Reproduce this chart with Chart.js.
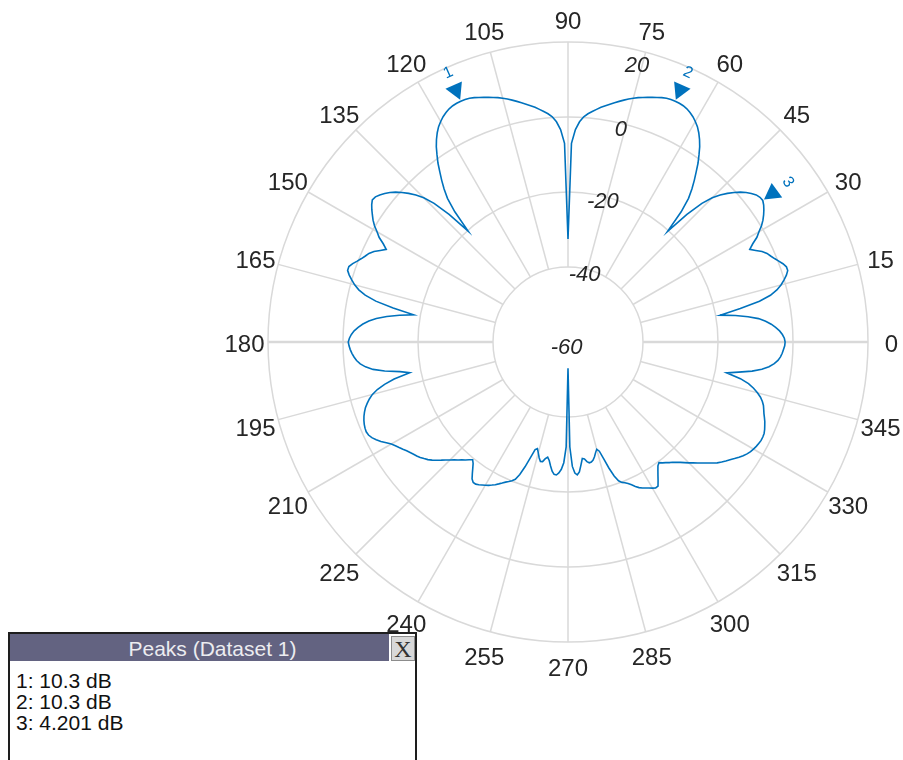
<!DOCTYPE html>
<html>
<head>
<meta charset="utf-8">
<title>Polar pattern</title>
<script src="https://cdn.jsdelivr.net/npm/chart.js@4.4.1/dist/chart.umd.min.js"></script>
<style>
  html, body { margin: 0; padding: 0; background: #fff; overflow: hidden; }
  #wrap { position: relative; width: 903px; height: 760px; }
  #peaks {
    position: absolute; left: 8px; top: 632px; width: 405px; height: 140px;
    border: 2px solid #1e1e1e; background: #fff;
    font-family: "Liberation Sans", Arial, sans-serif; color: #111;
  }
  #peaks .bar {
    position: absolute; left: 0; top: 0; width: 379px; height: 27px;
    background: #636381;
  }
  #peaks .title {
    position: absolute; left: 0; top: 0; width: 405px; height: 27px;
    color: #ececf0; font-size: 21px; line-height: 29px; text-align: center;
  }
  #peaks .close {
    position: absolute; left: 381px; top: 2px; width: 22px; height: 23px;
    background: #d8d8d8; border: 1px solid #8c8c8c;
    font-family: "Liberation Serif", serif; font-size: 24px; line-height: 24px; text-align: center; color: #333;
  }
  #peaks .rows { position: absolute; left: 6px; top: 36px; font-size: 21px; line-height: 21px; }
</style>
</head>
<body>
<div id="wrap">
  <canvas id="polar" width="903" height="760"></canvas>
  <div id="peaks">
    <div class="bar"></div>
    <div class="title">Peaks (Dataset 1)</div>
    <div class="close">X</div>
    <div class="rows" id="peakRows"></div>
  </div>
</div>
<script>
// --- DATA (angle in degrees, magnitude in dB) ---
const angles = Array.from({ length: 360 }, (_, i) => i);
const gainDb = [
  -2.1, -2.3, -2.8, -3.5, -4.5, -5.6, -7.0, -8.8, -11.5, -14.8,
  -18.8, -13.2, -7.8, -4.6, -2.6, -1.2, -0.1, 0.9, 1.6, 1.6,
  1.0, 0.2, -0.6, -1.3, -1.9, -2.9, -4.3, -5.6, -4.2, -2.4,
  -1.2, 0.2, 1.3, 2.2, 3.0, 3.7, 4.201, 4.1, 3.7, 2.9,
  2.0, 0.9, -0.4, -1.9, -3.6, -5.6, -8.6, -13.5, -20.3, -14.0,
  -10.0, -7.5, -5.3, -3.2, -1.0, 0.9, 2.8, 4.4, 5.8, 7.0,
  7.9, 8.7, 9.3, 9.8, 10.1, 10.25, 10.3, 10.25, 10.1, 9.8,
  9.4, 9.0, 8.6, 8.2, 7.8, 7.3, 6.8, 6.2, 5.6, 5.0,
  4.4, 3.8, 3.2, 2.5, 1.8, 1.1, 0.2, -1.2, -3.3, -7.0,
  -32.5, -7.0, -3.3, -1.2, 0.2, 1.1, 1.8, 2.5, 3.2, 3.8,
  4.4, 5.0, 5.6, 6.2, 6.8, 7.3, 7.8, 8.2, 8.6, 9.0,
  9.4, 9.8, 10.1, 10.25, 10.3, 10.25, 10.1, 9.8, 9.3, 8.7,
  7.9, 7.0, 5.8, 4.4, 2.8, 0.9, -1.0, -3.2, -5.3, -7.5,
  -10.0, -14.0, -20.2, -13.5, -8.6, -5.6, -3.6, -1.9, -0.4, 0.9,
  2.0, 2.9, 3.7, 4.3, 4.5, 3.9, 3.1, 2.2, 1.3, 0.2,
  -1.2, -2.4, -4.2, -5.6, -4.3, -2.9, -1.9, -1.3, -0.6, 0.2,
  1.1, 1.8, 1.8, 1.0, 0.0, -1.1, -2.5, -4.5, -7.6, -12.5,
  -18.2, -14.5, -11.2, -8.5, -6.6, -5.1, -3.9, -2.9, -2.2, -1.7,
  -1.4, -1.6, -1.9, -2.3, -2.8, -3.4, -4.3, -5.6, -7.5, -10.5,
  -14.5, -17.0, -12.6, -9.8, -7.6, -6.0, -4.9, -4.0, -3.2, -2.6,
  -2.1, -1.7, -1.4, -1.2, -1.1, -1.3, -1.8, -2.6, -3.5, -4.6,
  -5.6, -6.3, -6.9, -7.5, -8.1, -8.6, -9.1, -9.5, -10.0, -10.6,
  -11.2, -12.0, -12.9, -13.8, -14.7, -15.5, -16.3, -17.0, -17.7, -18.3,
  -19.0, -19.6, -18.9, -17.8, -16.6, -15.4, -14.8, -14.8, -15.1, -15.5,
  -15.9, -16.3, -16.8, -17.3, -17.9, -18.5, -19.1, -19.6, -20.1, -20.8,
  -22.4, -24.8, -27.6, -30.0, -30.4, -29.4, -28.2, -27.3, -27.4, -28.3,
  -28.8, -28.0, -26.6, -25.3, -24.5, -24.4, -25.0, -26.0, -27.8, -32.0,
  -53.0, -32.0, -26.8, -25.0, -24.5, -25.2, -27.0, -28.7, -28.5, -27.7,
  -27.3, -27.4, -27.8, -28.6, -29.6, -30.4, -29.7, -27.4, -24.6, -22.2,
  -20.6, -19.9, -19.5, -19.0, -18.3, -17.5, -16.8, -16.3, -15.9, -15.5,
  -15.0, -14.6, -14.7, -15.9, -17.1, -18.2, -19.2, -19.7, -19.1, -18.6,
  -18.0, -17.5, -16.8, -16.1, -15.3, -14.4, -13.6, -12.7, -11.8, -10.8,
  -9.8, -8.8, -8.0, -7.3, -6.6, -5.8, -5.0, -4.3, -3.7, -3.2,
  -2.9, -2.6, -2.4, -2.2, -2.2, -2.3, -2.6, -3.0, -3.4, -3.9,
  -4.4, -4.8, -5.2, -5.8, -6.6, -7.7, -9.0, -10.6, -13.0, -16.9,
  -13.8, -10.3, -7.8, -6.0, -4.7, -3.8, -3.2, -2.8, -2.5, -2.2
];
const angleTicks = [0, 15, 30, 45, 60, 75, 90, 105, 120, 135, 150, 165,
                    180, 195, 210, 225, 240, 255, 270, 285, 300, 315, 330, 345];
const magTicks = [-60, -40, -20, 0, 20];
const peakAngles = [114, 66, 36];

const MAG_MIN = -60, MAG_MAX = 20;
const GRID = '#d9d9d9';
const LINE = '#0072BD';
const TEXT = '#262626';
const FONT = '"Liberation Sans", Arial, sans-serif';

// radar goes clockwise from startAngle, so feed angles in reverse (0, 359, 358 ...)
const order = angles.map((_, i) => (360 - i) % 360);
const idxOf = a => (360 - a) % 360;

// --- grid spokes, labels, peak markers ---
const polarDecor = {
  id: 'polarDecor',
  beforeDatasetsDraw(chart) {
    const s = chart.scales.r, c = chart.ctx;
    const r0 = s.getDistanceFromCenterForValue(-40);
    const r1 = s.getDistanceFromCenterForValue(MAG_MAX);
    c.save();
    c.strokeStyle = GRID;
    angleTicks.forEach(a => {
      const p0 = s.getPointPosition(idxOf(a), r0);
      const p1 = s.getPointPosition(idxOf(a), r1);
      c.lineWidth = (a % 180 === 0) ? 2.5 : 1.5;
      c.beginPath(); c.moveTo(p0.x, p0.y); c.lineTo(p1.x, p1.y); c.stroke();
    });
    c.restore();
  },
  afterDatasetsDraw(chart) {
    const s = chart.scales.r, c = chart.ctx;
    const R = s.drawingArea;
    c.save();
    c.fillStyle = TEXT;
    c.textAlign = 'center';
    c.textBaseline = 'middle';

    // angle labels
    c.font = '24px ' + FONT;
    angleTicks.forEach(a => {
      const p = s.getPointPosition(idxOf(a), R + 23.5);
      c.fillText(String(a), p.x, p.y + 3.5);
    });

    // magnitude labels along ~76 deg
    c.font = 'italic 22px ' + FONT;
    magTicks.forEach(v => {
      const d = s.getDistanceFromCenterForValue(v) - (v === MAG_MAX ? 15 : 6);
      const p = s.getPointPosition(idxOf(76), d);
      c.fillText(String(v), p.x, p.y);
    });

    // peak markers
    const meta = chart.getDatasetMeta(0);
    peakAngles.forEach((a, k) => {
      const pt = meta.data[idxOf(a)];
      const ux = pt.x - s.xCenter, uy = pt.y - s.yCenter;
      const len = Math.hypot(ux, uy);
      const nx = ux / len, ny = uy / len;
      const tx = pt.x + nx * 1.5, ty = pt.y + ny * 1.5;
      const bx = tx + nx * 16, by = ty + ny * 16;
      c.fillStyle = LINE;
      c.beginPath();
      c.moveTo(tx, ty);
      c.lineTo(bx - ny * 9, by + nx * 9);
      c.lineTo(bx + ny * 9, by - nx * 9);
      c.closePath();
      c.fill();
      c.save();
      c.translate(pt.x + nx * 31, pt.y + ny * 31);
      c.rotate(Math.atan2(nx, -ny));
      c.font = '16px ' + FONT;
      c.fillText(String(k + 1), 0, 0);
      c.restore();
    });
    c.restore();
  }
};

const ctx = document.getElementById('polar').getContext('2d');
const polarChart = new Chart(ctx, {
  type: 'radar',
  data: {
    labels: order.map(String),
    datasets: [{
      label: 'Dataset 1',
      data: order.map(a => gainDb[a]),
      borderColor: LINE,
      borderWidth: 1.6,
      pointRadius: 0,
      pointHoverRadius: 0,
      fill: false,
      tension: 0
    }]
  },
  options: {
    responsive: false,
    animation: false,
    layout: { padding: { left: 268, top: 42, right: 35, bottom: 118 } },
    plugins: { legend: { display: false }, tooltip: { enabled: false } },
    scales: {
      r: {
        min: MAG_MIN,
        max: MAG_MAX,
        startAngle: 90,
        ticks: { display: false, stepSize: 20 },
        grid: { circular: true, color: GRID, lineWidth: 1.5 },
        angleLines: { display: false },
        pointLabels: { display: false }
      }
    }
  },
  plugins: [polarDecor]
});

// --- peaks table ---
document.getElementById('peakRows').innerHTML = peakAngles
  .map((a, k) => `${k + 1}: ${Number(gainDb[a].toPrecision(4))} dB`)
  .join('<br>');
</script>
</body>
</html>
